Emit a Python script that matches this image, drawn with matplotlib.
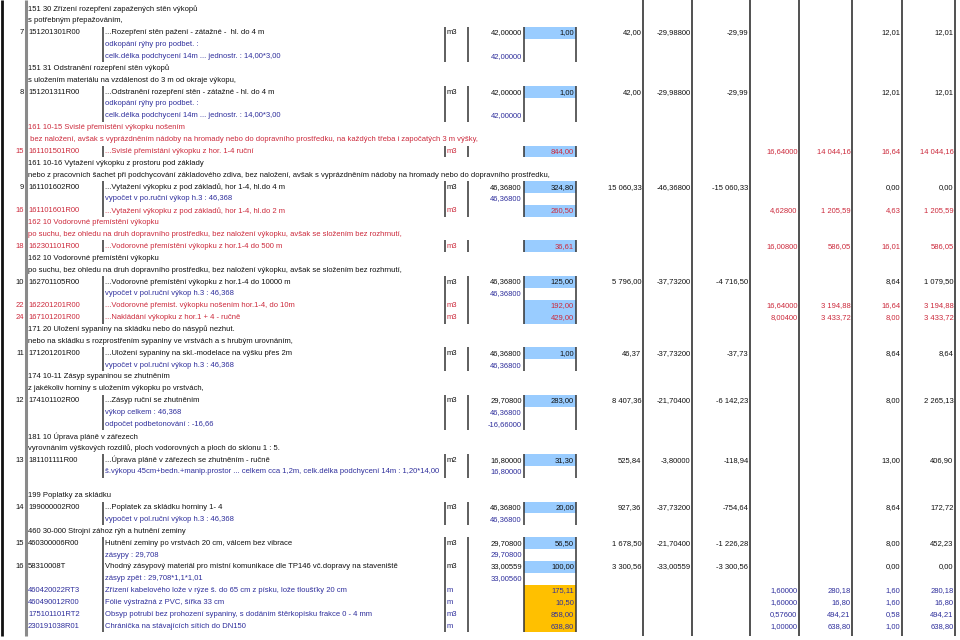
import matplotlib
matplotlib.use("Agg")
import matplotlib.pyplot as plt
from matplotlib.patches import Rectangle

plt.rcParams['font.family'] = ['Liberation Sans', 'DejaVu Sans']

# row layout: h = section text, i = item, s = sub row (calculation), e = empty
row_kind = ['h', 'h', 'i', 's', 's', 'h', 'h', 'i', 's', 's',
            'h', 'h', 'i', 'h', 'h', 'i', 's', 'i', 'h', 'h',
            'i', 'h', 'h', 'i', 's', 'i', 'i', 'h', 'h', 'i',
            's', 'h', 'h', 'i', 's', 's', 'h', 'h', 'i', 's',
            'e', 'h', 'i', 's', 'h', 'i', 's', 'i', 's', 'i',
            'i', 'i', 'i']

header_text = [
    "151 30 Zřízení rozepření zapažených stěn výkopů",
    "s potřebným přepažováním,",
    "151 31 Odstranění rozepření stěn výkopů",
    "s uložením materiálu na vzdálenost do 3 m od okraje výkopu,",
    "161 10-15 Svislé přemístění výkopku nošením",
    " bez naložení, avšak s vyprázdněním nádoby na hromady nebo do dopravního prostředku, na každých třeba i započatých 3 m výšky,",
    "161 10-16 Vytažení výkopku z prostoru pod základy",
    "nebo z pracovních šachet při podchycování základového zdiva, bez naložení, avšak s vyprázdněním nádoby na hromady nebo do dopravního prostředku,",
    "162 10 Vodorovné přemístění výkopku",
    "po suchu, bez ohledu na druh dopravního prostředku, bez naložení výkopku, avšak se složením bez rozhrnutí,",
    "162 10 Vodorovné přemístění výkopku",
    "po suchu, bez ohledu na druh dopravního prostředku, bez naložení výkopku, avšak se složením bez rozhrnutí,",
    "171 20 Uložení sypaniny na skládku nebo do násypů nezhut.",
    "nebo na skládku s rozprostřením sypaniny ve vrstvách a s hrubým urovnáním,",
    "174 10-11 Zásyp sypaninou se zhutněním",
    "z jakékoliv horniny s uložením výkopku po vrstvách,",
    "181 10 Úprava pláně v zářezech",
    "vyrovnáním výškových rozdílů, ploch vodorovných a ploch do sklonu 1 : 5.",
    "199 Poplatky za skládku",
    "460 30-000 Strojní zához rýh a hutnění zeminy",
]
header_color = ['k', 'k', 'k', 'k', 'r', 'r', 'k', 'k', 'r', 'r',
                'k', 'k', 'k', 'k', 'k', 'k', 'k', 'k', 'k', 'k']

item_num = ['7', '8', '15', '9', '16', '18', '10', '22', '24', '11',
            '12', '13', '14', '15', '16', '', '', '', '']
item_code = ['151201301R00', '151201311R00', '161101501R00', '161101602R00',
             '161101601R00', '162301101R00', '162701105R00', '162201201R00',
             '167101201R00', '171201201R00', '174101102R00', '181101111R00',
             '199000002R00', '460300006R00', '58310008T', '460420022RT3',
             '460490012R00', '175101101RT2', '230191038R01']
item_desc = [
    "...Rozepření stěn pažení - zátažné -  hl. do 4 m",
    "...Odstranění rozepření stěn - zátažné - hl. do 4 m",
    "...Svislé přemístání výkopku z hor. 1-4 ruční",
    "...Vytažení výkopku z pod základů, hor 1-4, hl.do 4 m",
    "...Vytažení výkopku z pod základů, hor 1-4, hl.do 2 m",
    "...Vodorovné přemístění výkopku z hor.1-4 do 500 m",
    "...Vodorovné přemístění výkopku z hor.1-4 do 10000 m",
    "...Vodorovné přemist. výkopku nošením hor.1-4, do 10m",
    "...Nakládání výkopku z hor.1 + 4 - ručně",
    "...Uložení sypaniny na skl.-modelace na výšku přes 2m",
    "...Zásyp ruční se zhutněním",
    "...Úprava pláně v zářezech se zhutněním - ručně",
    "...Poplatek za skládku horniny 1- 4",
    "Hutnění zeminy po vrstvách 20 cm, válcem bez vibrace",
    "Vhodný zásypový materiál pro místní komunikace dle TP146 vč.dopravy na staveniště",
    "Zřízení kabelového lože v rýze š. do 65 cm z písku, lože tloušťky 20 cm",
    "Fólie výstražná z PVC, šířka 33 cm",
    "Obsyp potrubí bez prohození sypaniny, s dodáním štěrkopísku frakce 0 - 4 mm",
    "Chránička na stávajících sítích do DN150",
]
item_unit = ['m3'] * 11 + ['m2', 'm3', 'm3', 'm3', 'm', 'm', 'm3', 'm']
item_color = ['k', 'k', 'r', 'k', 'r', 'r', 'k', 'r', 'r', 'k',
              'k', 'k', 'k', 'k', 'k', 'b', 'b', 'b', 'b']
item_qty = ['42,00000', '42,00000', '', '46,36800', '', '', '46,36800', '', '',
            '46,36800', '29,70800', '16,80000', '46,36800', '29,70800',
            '33,00559', '', '', '', '']
item_price = ['1,00', '1,00', '844,00', '324,80', '260,50', '36,61', '125,00',
              '192,00', '429,00', '1,00', '283,00', '31,30', '20,00', '56,50',
              '100,00', '175,11', '10,50', '858,00', '638,80']
item_total = ['42,00', '42,00', '', '15 060,33', '', '', '5 796,00', '', '',
              '46,37', '8 407,36', '525,84', '927,36', '1 678,50', '3 300,56',
              '', '', '', '']
item_dqty = ['-29,98800', '-29,98800', '', '-46,36800', '', '', '-37,73200', '', '',
             '-37,73200', '-21,70400', '-3,80000', '-37,73200', '-21,70400',
             '-33,00559', '', '', '', '']
item_dtotal = ['-29,99', '-29,99', '', '-15 060,33', '', '', '-4 716,50', '', '',
               '-37,73', '-6 142,23', '-118,94', '-754,64', '-1 226,28',
               '-3 300,56', '', '', '', '']
item_nqty = ['', '', '16,64000', '', '4,62800', '16,00800', '', '16,64000',
             '8,00400', '', '', '', '', '', '', '1,60000', '1,60000',
             '0,57600', '1,00000']
item_ntotal = ['', '', '14 044,16', '', '1 205,59', '586,05', '', '3 194,88',
               '3 433,72', '', '', '', '', '', '', '280,18', '16,80',
               '494,21', '638,80']
item_fqty = ['12,01', '12,01', '16,64', '0,00', '4,63', '16,01', '8,64', '16,64',
             '8,00', '8,64', '8,00', '13,00', '8,64', '8,00', '0,00', '1,60',
             '1,60', '0,58', '1,00']
item_ftotal = ['12,01', '12,01', '14 044,16', '0,00', '1 205,59', '586,05',
               '1 079,50', '3 194,88', '3 433,72', '8,64', '2 265,13', '406,90',
               '172,72', '452,23', '0,00', '280,18', '16,80', '494,21', '638,80']

sub_text = [
    "odkopání rýhy pro podbet. :",
    "celk.délka podchycení 14m ... jednostr. : 14,00*3,00",
    "odkopání rýhy pro podbet. :",
    "celk.délka podchycení 14m ... jednostr. : 14,00*3,00",
    "vypočet v po.ruční výkop h.3 : 46,368",
    "vypočet v pol.ruční výkop h.3 : 46,368",
    "vypočet v pol.ruční výkop h.3 : 46,368",
    "výkop celkem : 46,368",
    "odpočet podbetonování : -16,66",
    "š.výkopu 45cm+bedn.+manip.prostor ... celkem cca 1,2m, celk.délka podchycení 14m : 1,20*14,00",
    "vypočet v pol.ruční výkop h.3 : 46,368",
    "zásypy : 29,708",
    "zásyp zpět : 29,708*1,1*1,01",
]
sub_qty = ['', '42,00000', '', '42,00000', '46,36800', '46,36800', '46,36800',
           '46,36800', '-16,66000', '16,80000', '46,36800', '29,70800', '33,00560']

colors = {'k': '#111111', 'r': '#cc2a3c', 'b': '#2f2f9c'}
fs = 5.5
y0, dy = 9.0, 11.87

fig = plt.figure(figsize=(9.6, 6.4), dpi=100)
ax = fig.add_axes([0, 0, 1, 1])
ax.set_xlim(0, 960)
ax.set_ylim(640, 0)
ax.axis('off')

# value columns: right edge of each cell
right_cols = [643, 692, 750, 799, 852, 902, 955]

hi = ii = si = 0
groups = []
for r, kind in enumerate(row_kind):
    y = y0 + r * dy
    if kind == 'h':
        c = colors[header_color[hi]]
        ax.text(28, y, header_text[hi], color=c, fontsize=fs, va='center', ha='left')
        hi += 1
    elif kind == 's':
        c = colors['b']
        ax.text(105, y, sub_text[si], color=c, fontsize=fs, va='center', ha='left')
        ax.text(522, y, sub_qty[si], color=c, fontsize=fs, va='center', ha='right')
        groups[-1][1] = y + dy / 2
        si += 1
    elif kind == 'i':
        c = colors[item_color[ii]]
        fill = '#ffc000' if item_color[ii] == 'b' else '#99ccff'
        ax.add_patch(Rectangle((524, y - dy / 2), 52, dy, facecolor=fill,
                               edgecolor='none', zorder=0))
        ax.text(24, y, item_num[ii], color=c, fontsize=fs, va='center', ha='right')
        ax.text(28, y, item_code[ii], color=c, fontsize=fs, va='center', ha='left')
        ax.text(105, y, item_desc[ii], color=c, fontsize=fs, va='center', ha='left')
        ax.text(447, y, item_unit[ii], color=c, fontsize=fs, va='center', ha='left')
        ax.text(522, y, item_qty[ii], color=c, fontsize=fs, va='center', ha='right')
        ax.text(574, y, item_price[ii], color=c, fontsize=fs, va='center', ha='right')
        vals = [item_total[ii], item_dqty[ii], item_dtotal[ii], item_nqty[ii],
                item_ntotal[ii], item_fqty[ii], item_ftotal[ii]]
        for xr, v in zip(right_cols, vals):
            ax.text(xr - 1.5, y, v, color=c, fontsize=fs, va='center', ha='right')
        groups.append([y - dy / 2, y + dy / 2])
        ii += 1

# item group borders
for top, bot in groups:
    for x in [103, 445, 468, 524, 576]:
        ax.plot([x, x], [top, bot], color='#333333', lw=1.1, solid_capstyle='butt')

# continuous borders
ax.plot([2, 2], [0, 636], color='#111111', lw=2.0, solid_capstyle='butt')
ax.plot([26, 26], [0, 636], color='#8a8a8a', lw=2.2, solid_capstyle='butt')
for x in right_cols:
    ax.plot([x, x], [0, 636], color='#222222', lw=1.1, solid_capstyle='butt')

fig.savefig('out.png', dpi=100)
